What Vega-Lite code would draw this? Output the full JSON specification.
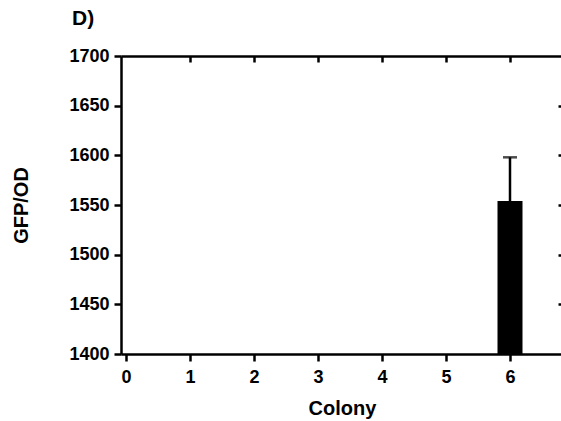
{
  "$schema": "https://vega.github.io/schema/vega-lite/v6.json",
  "width": 442,
  "height": 298,
  "autosize": {"type": "none"},
  "padding": {"left": 121, "top": 56, "right": 0, "bottom": 67},
  "background": "white",
  "title": {"text": "D)", "anchor": "start", "frame": "group", "dx": -49, "offset": 18, "fontSize": 21, "font": "Liberation Sans", "fontWeight": "bold", "color": "black"},
  "config": {
    "view": {"stroke": null},
    "axis": {"grid": false, "labelFlush": false, "domainColor": "black", "domainWidth": 2.5, "tickColor": "black", "tickWidth": 2.5, "labelFont": "Liberation Sans", "labelFontWeight": "bold", "labelFontSize": 18, "labelColor": "black", "titleFont": "Liberation Sans", "titleFontWeight": "bold", "titleFontSize": 20, "titleColor": "black"}
  },
  "data": {"values": [{"colony": 6, "mean": 1554, "upper": 1598}]},
  "layer": [
    {
      "mark": {"type": "bar", "color": "black", "size": 25, "clip": true},
      "encoding": {
        "x": {"field": "colony", "type": "quantitative", "scale": {"domain": [0, 6.75], "nice": false}, "axis": {"orient": "bottom", "values": [0, 1, 2, 3, 4, 5, 6], "labelFlush": false, "labelAlign": "center", "tickSize": 7, "labelPadding": 7, "title": "Colony", "titlePadding": 12, "format": "d"}},
        "y": {"field": "mean", "type": "quantitative", "scale": {"domain": [1400, 1700], "nice": false, "zero": false}, "axis": {"orient": "left", "values": [1400, 1450, 1500, 1550, 1600, 1650, 1700], "labelFlush": false, "labelBaseline": "middle", "tickSize": 7, "labelPadding": 5, "title": "GFP/OD", "titlePadding": 37, "format": "d"}},
        "y2": {"datum": 1400}
      }
    },
    {
      "mark": {"type": "rule", "color": "black", "strokeWidth": 2.5},
      "encoding": {
        "x": {"field": "colony", "type": "quantitative", "axis": {"orient": "top", "values": [1, 2, 3, 4, 5, 6], "tickSize": -6, "labels": false, "title": null}},
        "y": {"field": "mean", "type": "quantitative", "axis": {"orient": "right", "values": [1450, 1500, 1550, 1600, 1650], "tickSize": -5, "labels": false, "title": null}},
        "y2": {"field": "upper"}
      }
    },
    {
      "mark": {"type": "tick", "color": "black", "orient": "horizontal", "size": 14, "thickness": 2.5},
      "encoding": {
        "x": {"field": "colony", "type": "quantitative", "axis": null},
        "y": {"field": "upper", "type": "quantitative", "axis": null}
      }
    }
  ],
  "resolve": {"axis": {"x": "independent", "y": "independent"}}
}
